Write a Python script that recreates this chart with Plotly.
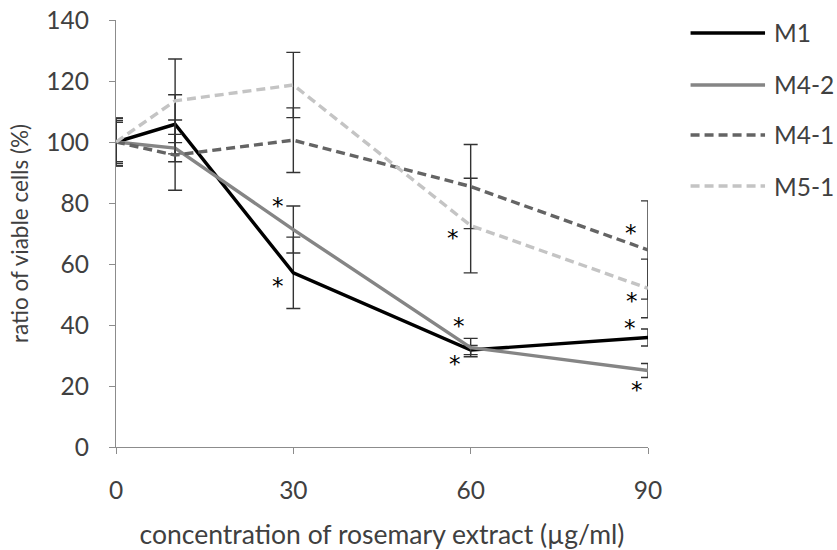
import plotly.graph_objects as go

x_conc = [0, 10, 30, 60, 90]

m1 = [100, 105.8, 57.1, 31.8, 35.9]
m1_err = [7.9, 9.7, 11.7, 1.5, 2.8]

m42 = [100, 98.0, 71.3, 32.6, 25.1]
m42_err = [7.1, 4.5, 7.7, 3.0, 2.3]

m41 = [100, 95.7, 100.6, 85.4, 64.6]
m41_err = [7.8, 11.5, 10.6, 13.8, 16.1]

m51 = [100, 113.5, 118.7, 72.6, 52.0]
m51_err = [6.5, 13.7, 10.7, 15.5, 9.6]

series_names = ["M1", "M4-2", "M4-1", "M5-1"]

star_x = [27.4, 27.4, 57.0, 58.0, 57.4, 87.1, 87.3, 86.9, 88.1]
star_y = [80.3, 54.2, 69.8, 41.1, 28.5, 71.4, 49.3, 40.3, 20.1]

x_ticks = [0, 30, 60, 90]

FONT = "Lato"
TXT = "#404040"
AX = "#8c8c8c"
ERR = "#333333"

styles = [
    dict(color="#000000", width=3.4, dash="solid"),
    dict(color="#858585", width=3.4, dash="solid"),
    dict(color="#646464", width=3.4, dash="9px,5px"),
    dict(color="#c4c4c4", width=3.4, dash="9px,5px"),
]
vals = [m1, m42, m41, m51]
errs = [m1_err, m42_err, m41_err, m51_err]

fig = go.Figure()
for name, v, e, st in zip(series_names, vals, errs, styles):
    fig.add_trace(go.Scatter(
        x=x_conc, y=v, name=name, mode="lines",
        line=st,
        error_y=dict(type="data", array=e, visible=True, color=ERR,
                     thickness=1.4, width=7),
        showlegend=False,
    ))

for sx, sy in zip(star_x, star_y):
    fig.add_annotation(x=sx, y=sy, xref="x", yref="y", text="*",
                       showarrow=False, yanchor="middle", xanchor="center",
                       yshift=-4,
                       font=dict(family="DejaVu Sans", size=23, color="#000000"))

# manual legend
leg_y = [0.9696, 0.8478, 0.7307, 0.6112]
for name, st, ly in zip(series_names, styles, leg_y):
    fig.add_shape(type="line", xref="paper", yref="paper",
                  x0=1.080, x1=1.220, y0=ly, y1=ly,
                  line=dict(color=st["color"], width=st["width"], dash=st["dash"]))
    fig.add_annotation(x=1.233, y=ly, xref="paper", yref="paper", text=name,
                       showarrow=False, xanchor="left", yanchor="middle",
                       font=dict(family=FONT, size=24.5, color=TXT))

fig.update_layout(
    width=837, height=550,
    margin=dict(l=116, r=189, t=20, b=103),
    paper_bgcolor="white", plot_bgcolor="white",
    font=dict(family=FONT, size=24.5, color=TXT),
    showlegend=False,
)
fig.update_xaxes(
    range=[0, 90], tickvals=x_ticks, ticktext=[str(t) for t in x_ticks],
    showline=True, linecolor=AX, linewidth=1.3, ticks="outside", ticklen=6,
    tickcolor=AX, showgrid=False, zeroline=False, automargin=False,
    ticklabelstandoff=15,
    tickfont=dict(family=FONT, size=24.5, color=TXT),
    title=dict(text="concentration of rosemary extract (µg/ml)", standoff=26,
               font=dict(family=FONT, size=26.5, color=TXT)),
)
fig.update_yaxes(
    range=[0, 140], dtick=20, tick0=0,
    showline=True, linecolor=AX, linewidth=1.3, ticks="outside", ticklen=6,
    tickcolor=AX, showgrid=False, zeroline=False, automargin=False,
    ticklabelstandoff=15,
    tickfont=dict(family=FONT, size=24.5, color=TXT),
    title=dict(text="ratio of viable cells (%)", standoff=11,
               font=dict(family=FONT, size=22.5, color=TXT)),
)

fig.write_html("out.html")
